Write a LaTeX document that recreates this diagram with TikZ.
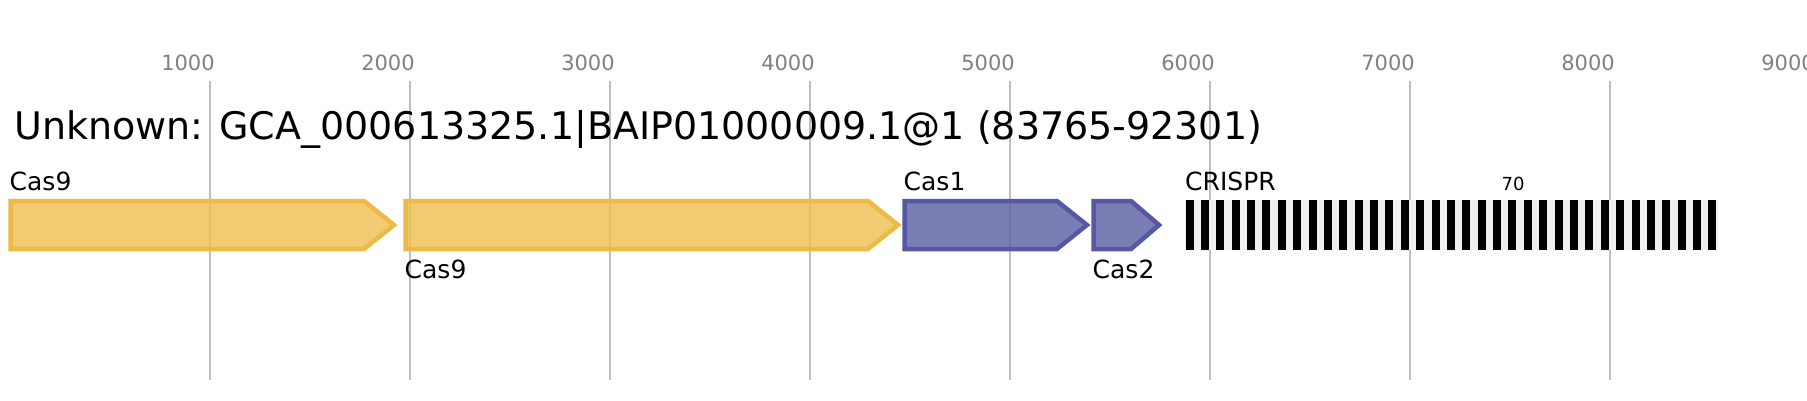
\documentclass[tikz,border=0pt]{standalone}
\usepackage{fontspec}
\setmainfont{DejaVu Sans}
\definecolor{gridgray}{RGB}{190,190,190}
\definecolor{axgray}{RGB}{128,128,128}
\definecolor{yelfill}{RGB}{238,191,79}
\definecolor{yelline}{RGB}{237,187,69}
\definecolor{bluefill}{RGB}{90,93,163}
\definecolor{blueline}{RGB}{86,88,163}
\definecolor{crbg}{RGB}{240,240,240}
\tikzset{
  gridln/.style={draw=gridgray, line width=2pt},
  axlab/.style={anchor=base, inner sep=0pt, text=axgray, font=\fontsize{21}{25}\selectfont},
  genelab/.style={anchor=base west, inner sep=0pt, font=\fontsize{25}{30}\selectfont},
  titlelab/.style={anchor=base west, inner sep=0pt, font=\fontsize{38}{46}\selectfont},
  countlab/.style={anchor=base, inner sep=0pt, font=\fontsize{18}{22}\selectfont},
  cassnine/.style={fill=yelfill, fill opacity=0.8, draw=yelline, line width=4.5pt, line join=miter},
  cassone/.style={fill=bluefill, fill opacity=0.8, draw=blueline, line width=4.5pt, line join=miter},
  repeatbar/.style={fill=black},
}
\begin{document}
\begin{tikzpicture}[x=1pt,y=-1pt]
\useasboundingbox (0,0) rectangle (1807,400);
\fill[white] (0,0) rectangle (1807,400);
% grid lines
\foreach \p in {1,...,9} {
  \draw[gridln] ({10+200*\p},80.7) -- ({10+200*\p},380);
  \pgfmathtruncatemacro{\lab}{1000*\p}
  \node[axlab] (ax\p) at ({200*\p-12},70) {\lab};
}
% title
\node[titlelab] (title) at (14,139) {Unknown: GCA\_000613325.1|BAIP01000009.1@1 (83765-92301)};
% genes
\draw[cassnine] (10.5,201) -- (364,201) -- (394,225) -- (364,249) -- (10.5,249) -- cycle;
\draw[cassnine] (405.5,201) -- (868,201) -- (898,225) -- (868,249) -- (405.5,249) -- cycle;
\draw[cassone] (904.5,201) -- (1057,201) -- (1087,225) -- (1057,249) -- (904.5,249) -- cycle;
\draw[cassone] (1093.5,201) -- (1131,201) -- (1159,225) -- (1131,249) -- (1093.5,249) -- cycle;
% CRISPR array
\fill[crbg] (1185,200) rectangle (1718,249.5);
\foreach \i in {0,...,34} {
  \fill[repeatbar] ({1185.5+15.38*\i},200) rectangle ++(8,49.5);
}
% labels
\node[genelab] (l1) at (9.5,190) {Cas9};
\node[genelab] (l2) at (404.5,278) {Cas9};
\node[genelab] (l3) at (903.5,190) {Cas1};
\node[genelab] (l4) at (1092.5,278) {Cas2};
\node[genelab] (l5) at (1185,190) {CRISPR};
\node[countlab] (l6) at (1513,190) {70};
\end{tikzpicture}
\end{document}
